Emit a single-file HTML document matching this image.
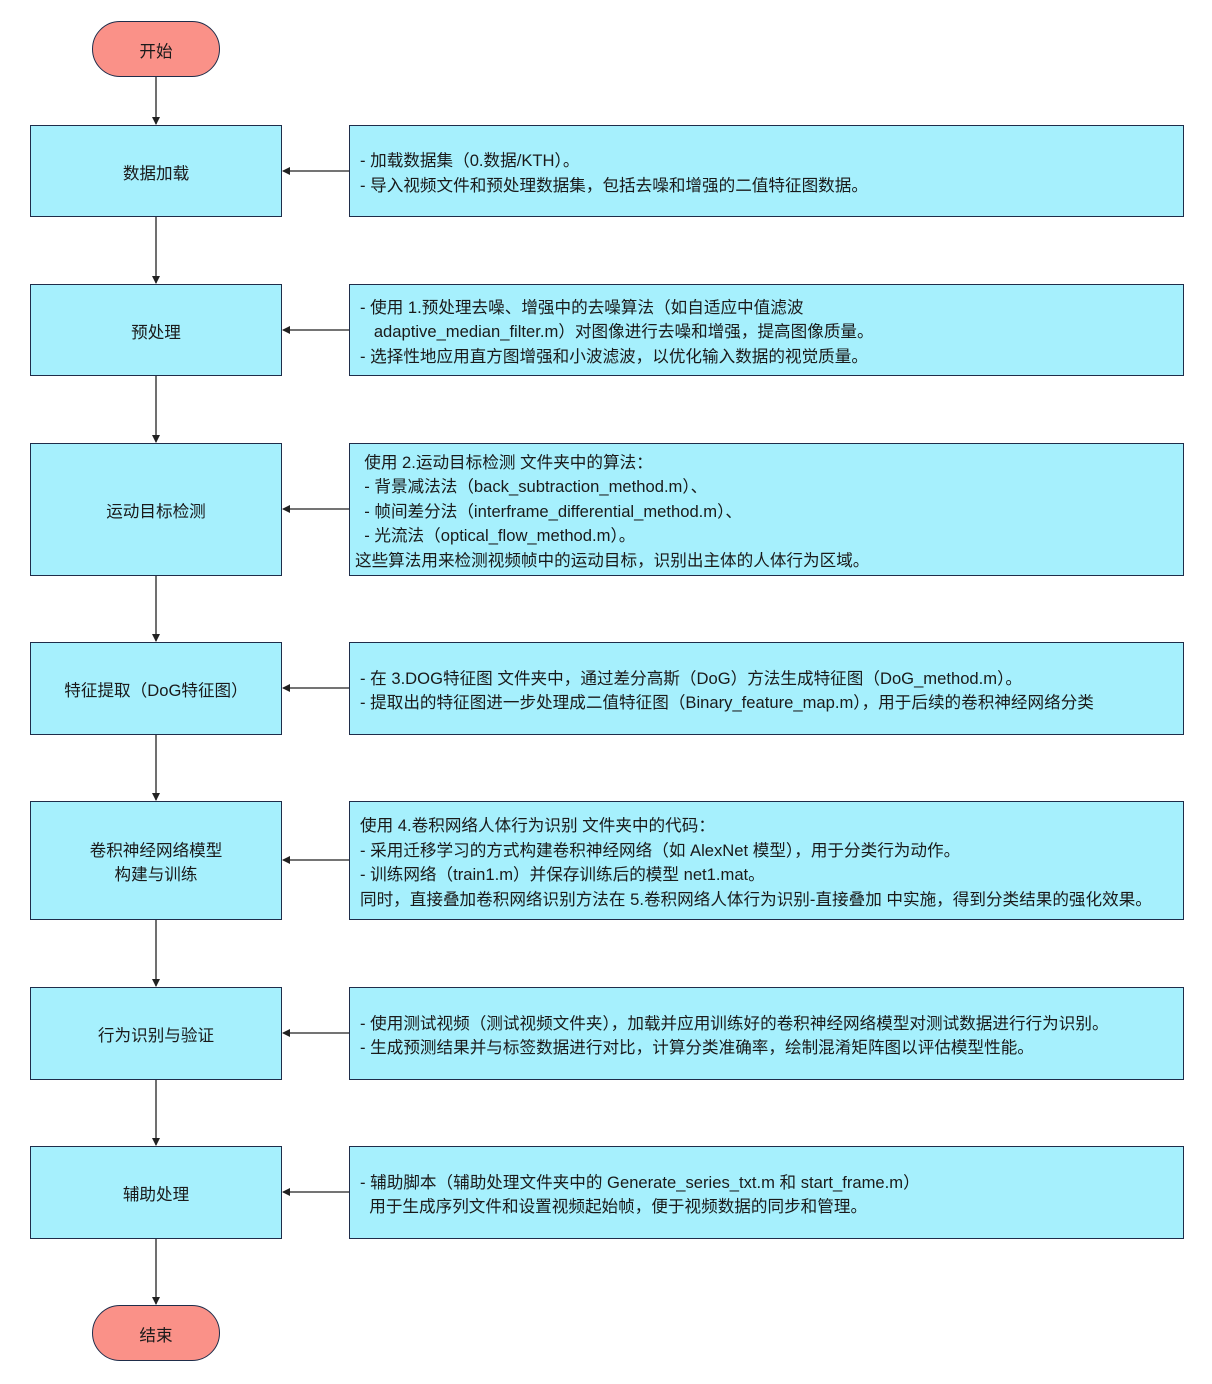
<!DOCTYPE html>
<html><head><meta charset="utf-8"><style>
body{margin:0;width:1212px;height:1384px;background:#fff;position:relative;font-family:"Liberation Sans","Noto Sans CJK SC",sans-serif;font-size:16.6px;color:#1a1a1a;overflow:hidden}
.b{position:absolute;background:#a6f0fd;border:1.3px solid #1f2d4a;box-sizing:border-box;display:flex;align-items:center;padding-top:5px}
.l{left:30px;width:252px;justify-content:center;text-align:center;line-height:24px}
.r{left:349px;width:835px;padding-left:10px;line-height:24.5px;white-space:pre}
.e{position:absolute;left:92px;width:128px;height:56px;background:#fa9188;border:1.3px solid #1f2d4a;border-radius:28px;box-sizing:border-box;display:flex;align-items:center;justify-content:center;padding-top:2px}
svg{position:absolute;left:0;top:0}
</style></head><body>
<svg width="1212" height="1384"><defs><marker id="a" markerWidth="8" markerHeight="8" refX="7" refY="4" orient="auto" markerUnits="userSpaceOnUse"><path d="M0,0L8,4L0,8z" fill="#222"/></marker></defs>
<g stroke="#222" stroke-width="1.3" marker-end="url(#a)">
<line x1="156" y1="76" x2="156" y2="124"/>
<line x1="156" y1="217" x2="156" y2="283"/>
<line x1="156" y1="376" x2="156" y2="442"/>
<line x1="156" y1="576" x2="156" y2="641"/>
<line x1="156" y1="735" x2="156" y2="800"/>
<line x1="156" y1="920" x2="156" y2="986"/>
<line x1="156" y1="1080" x2="156" y2="1145"/>
<line x1="156" y1="1239" x2="156" y2="1304"/>
<line x1="349" y1="171" x2="283" y2="171"/>
<line x1="349" y1="330" x2="283" y2="330"/>
<line x1="349" y1="509" x2="283" y2="509"/>
<line x1="349" y1="688" x2="283" y2="688"/>
<line x1="349" y1="860" x2="283" y2="860"/>
<line x1="349" y1="1033" x2="283" y2="1033"/>
<line x1="349" y1="1192" x2="283" y2="1192"/>
</g></svg>
<div class="e" style="top:21px">开始</div>
<div class="e" style="top:1305px">结束</div>
<div class="b l" style="top:125px;height:92px">数据加载</div>
<div class="b l" style="top:284px;height:92px">预处理</div>
<div class="b l" style="top:443px;height:133px">运动目标检测</div>
<div class="b l" style="top:642px;height:93px">特征提取（DoG特征图）</div>
<div class="b l" style="top:801px;height:119px">卷积神经网络模型<br>构建与训练</div>
<div class="b l" style="top:987px;height:93px">行为识别与验证</div>
<div class="b l" style="top:1146px;height:93px">辅助处理</div>
<div class="b r" style="top:125px;height:92px">- 加载数据集（0.数据/KTH）。
- 导入视频文件和预处理数据集，包括去噪和增强的二值特征图数据。</div>
<div class="b r" style="top:284px;height:92px">- 使用 1.预处理去噪、增强中的去噪算法（如自适应中值滤波
   adaptive_median_filter.m）对图像进行去噪和增强，提高图像质量。
- 选择性地应用直方图增强和小波滤波，以优化输入数据的视觉质量。</div>
<div class="b r" style="top:443px;height:133px;padding-left:5px">  使用 2.运动目标检测 文件夹中的算法：
  - 背景减法法（back_subtraction_method.m）、
  - 帧间差分法（interframe_differential_method.m）、
  - 光流法（optical_flow_method.m）。
这些算法用来检测视频帧中的运动目标，识别出主体的人体行为区域。</div>
<div class="b r" style="top:642px;height:93px">- 在 3.DOG特征图 文件夹中，通过差分高斯（DoG）方法生成特征图（DoG_method.m）。
- 提取出的特征图进一步处理成二值特征图（Binary_feature_map.m），用于后续的卷积神经网络分类</div>
<div class="b r" style="top:801px;height:119px">使用 4.卷积网络人体行为识别 文件夹中的代码：
- 采用迁移学习的方式构建卷积神经网络（如 AlexNet 模型），用于分类行为动作。
- 训练网络（train1.m）并保存训练后的模型 net1.mat。
同时，直接叠加卷积网络识别方法在 5.卷积网络人体行为识别-直接叠加 中实施，得到分类结果的强化效果。</div>
<div class="b r" style="top:987px;height:93px">- 使用测试视频（测试视频文件夹），加载并应用训练好的卷积神经网络模型对测试数据进行行为识别。
- 生成预测结果并与标签数据进行对比，计算分类准确率，绘制混淆矩阵图以评估模型性能。</div>
<div class="b r" style="top:1146px;height:93px">- 辅助脚本（辅助处理文件夹中的 Generate_series_txt.m 和 start_frame.m）
  用于生成序列文件和设置视频起始帧，便于视频数据的同步和管理。</div>
</body></html>
